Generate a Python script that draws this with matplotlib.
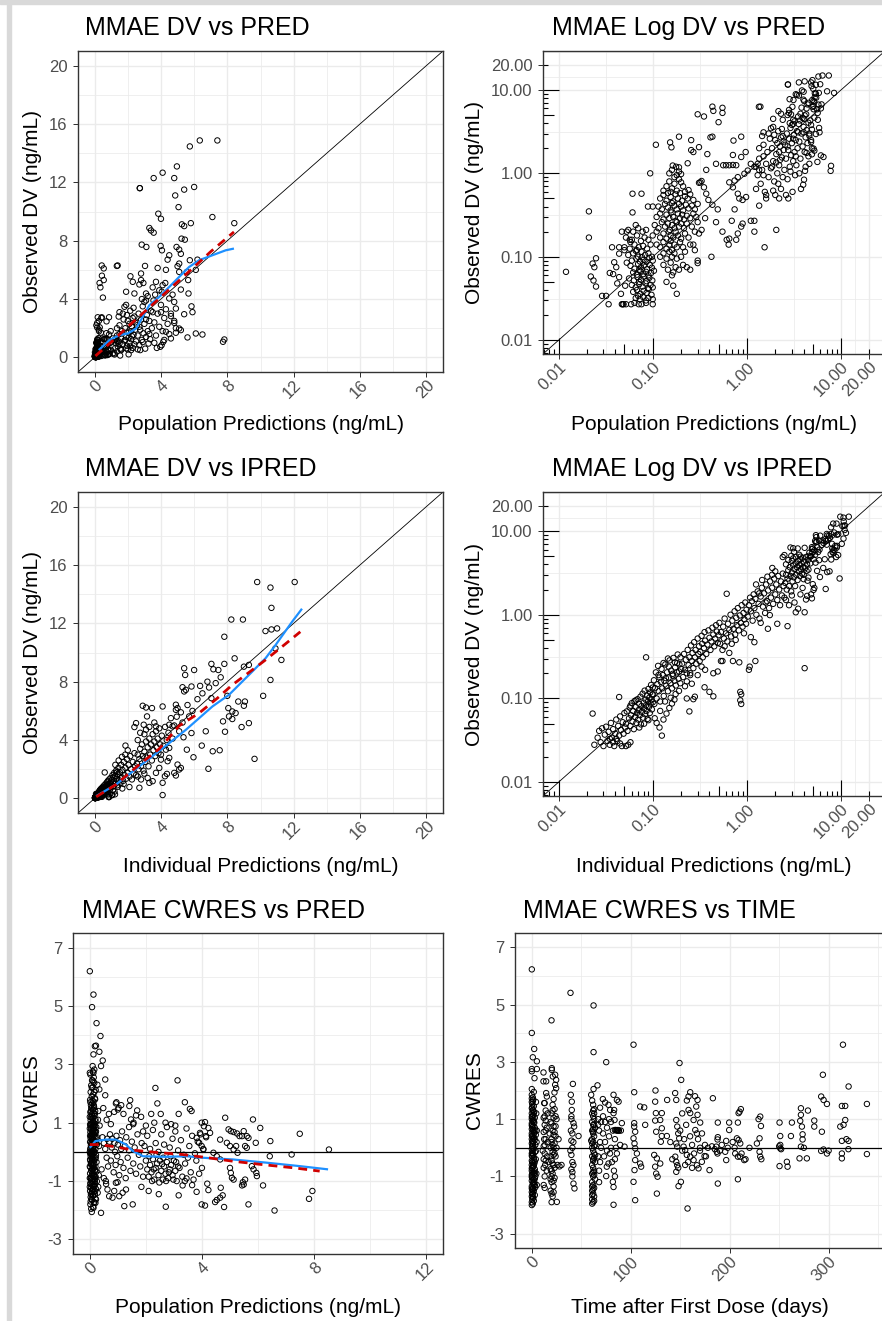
import numpy as np
import matplotlib
matplotlib.use('Agg')
import matplotlib.pyplot as plt
import matplotlib.transforms as mtrans
from matplotlib.patches import Rectangle
from matplotlib.ticker import NullLocator, NullFormatter

plt.rcParams['font.family'] = ['Liberation Sans', 'DejaVu Sans']

# ---------------- DATA ----------------
# Dataset A: population predictions (PRED) vs observed DV (ng/mL)
pred_dv_low = [(0.012,0.066),(0.021,0.35),(0.021,0.17),(0.022,0.058),(0.0235,0.052),(0.025,0.044),(0.025,0.096),
    (0.023,0.083),(0.024,0.075),(0.029,0.034),(0.032,0.034),(0.034,0.027),(0.035,0.064),(0.037,0.13),(0.044,0.13),
    (0.039,0.086),(0.041,0.075),(0.044,0.109),(0.044,0.057),(0.047,0.2),(0.046,0.036),(0.051,0.045),(0.047,0.027),
    (0.049,0.027),(0.053,0.2),(0.061,0.57),(0.061,0.34),(0.057,0.16),(0.042,0.048),(0.038,0.062),(0.053,0.085),(0.05,0.12)]
pred_dv_c1 = [(0.055,0.21),(0.062,0.2),(0.07,0.22),(0.078,0.2),(0.066,0.24),(0.085,0.21),
    (0.052,0.17),(0.06,0.16),(0.068,0.18),(0.075,0.155),(0.082,0.17),(0.09,0.16),(0.058,0.15),
    (0.05,0.13),(0.057,0.125),(0.064,0.14),(0.071,0.13),(0.079,0.135),(0.087,0.125),(0.095,0.14),(0.068,0.12),
    (0.055,0.105),(0.062,0.11),(0.07,0.1),(0.076,0.115),(0.083,0.105),(0.09,0.11),(0.098,0.1),(0.066,0.118),
    (0.06,0.09),(0.067,0.095),(0.073,0.088),(0.08,0.092),(0.086,0.087),(0.092,0.097),(0.1,0.09),(0.077,0.099),
    (0.058,0.078),(0.064,0.072),(0.07,0.082),(0.075,0.075),(0.081,0.079),(0.087,0.071),(0.093,0.08),(0.098,0.074),(0.072,0.07),
    (0.062,0.065),(0.068,0.061),(0.074,0.067),(0.079,0.062),(0.085,0.066),(0.09,0.06),(0.096,0.064),(0.103,0.068),
    (0.056,0.055),(0.063,0.052),(0.069,0.057),(0.075,0.053),(0.08,0.058),(0.086,0.051),(0.092,0.056),(0.099,0.052),(0.072,0.05),
    (0.06,0.046),(0.066,0.043),(0.072,0.047),(0.078,0.044),(0.084,0.048),(0.089,0.042),(0.095,0.046),(0.1,0.043),
    (0.062,0.038),(0.068,0.04),(0.074,0.036),(0.08,0.039),(0.086,0.037),(0.091,0.041),(0.097,0.035),
    (0.066,0.032),(0.073,0.031),(0.079,0.033),(0.085,0.03),(0.09,0.032),(0.1,0.031),(0.07,0.034),
    (0.048,0.027),(0.052,0.027),(0.059,0.027),(0.064,0.028),(0.071,0.027),(0.076,0.027),(0.085,0.028),(0.1,0.027)]
pred_dv_c2 = [(0.163,1.24),(0.177,1.2),(0.19,1.18),(0.17,0.9),(0.108,2.2),(0.153,2.35),(0.158,2.05),(0.19,2.75),
    (0.256,2.5),(0.256,1.9),(0.27,1.8),(0.235,1.32),(0.094,1.0),(0.076,0.57),(0.1,0.4),(0.089,0.4),
    (0.15,1.0),(0.16,1.1),(0.18,0.95),(0.19,1.05),(0.2,0.98),
    (0.13,0.62),(0.14,0.7),(0.15,0.8),(0.16,0.66),(0.17,0.75),(0.18,0.62),(0.19,0.85),(0.21,0.7),(0.22,0.6),(0.24,0.63),(0.155,0.6),(0.2,0.78),
    (0.12,0.5),(0.13,0.55),(0.14,0.47),(0.145,0.58),(0.155,0.52),(0.165,0.46),(0.175,0.56),(0.185,0.5),(0.195,0.58),(0.205,0.47),(0.22,0.53),(0.235,0.5),(0.25,0.56),(0.27,0.48),
    (0.115,0.4),(0.125,0.37),(0.135,0.43),(0.145,0.39),(0.155,0.36),(0.16,0.44),(0.17,0.41),(0.18,0.37),(0.19,0.43),(0.2,0.4),(0.21,0.36),(0.225,0.42),(0.24,0.38),(0.26,0.41),(0.28,0.37),(0.3,0.43),
    (0.11,0.3),(0.12,0.33),(0.13,0.28),(0.14,0.32),(0.15,0.29),(0.158,0.34),(0.165,0.3),(0.175,0.27),(0.185,0.33),(0.195,0.29),(0.205,0.32),(0.215,0.28),(0.23,0.31),(0.25,0.29),(0.27,0.33),(0.29,0.3),
    (0.105,0.24),(0.115,0.22),(0.125,0.26),(0.135,0.23),(0.145,0.25),(0.152,0.21),(0.16,0.24),(0.17,0.22),(0.18,0.26),(0.19,0.23),(0.2,0.25),(0.215,0.22),(0.23,0.25),(0.26,0.23),(0.3,0.26),
    (0.1,0.18),(0.11,0.2),(0.12,0.17),(0.13,0.19),(0.14,0.165),(0.148,0.2),(0.155,0.18),(0.165,0.17),(0.175,0.2),(0.185,0.18),(0.2,0.165),(0.22,0.19),(0.24,0.17),(0.28,0.2),
    (0.11,0.14),(0.12,0.13),(0.13,0.15),(0.14,0.125),(0.15,0.14),(0.155,0.155),(0.16,0.12),(0.17,0.14),(0.18,0.13),(0.195,0.15),(0.21,0.13),(0.25,0.14),
    (0.12,0.1),(0.13,0.11),(0.14,0.095),(0.15,0.115),(0.16,0.1),(0.17,0.11),(0.18,0.095),(0.2,0.1),(0.22,0.115),
    (0.13,0.08),(0.145,0.07),(0.155,0.085),(0.165,0.065),(0.175,0.075),(0.19,0.07),(0.16,0.06),(0.21,0.08),(0.23,0.075),
    (0.14,0.05),(0.165,0.045),(0.18,0.036),(0.25,0.07),(0.3,0.09)]
pred_dv_mid = [(0.35,4.8),(0.43,6.3),(0.44,5.6),(0.55,6.1),(0.55,5.3),(0.5,4.1),(0.41,2.7),(0.43,2.75),(0.31,2.06),
    (0.38,1.7),(0.47,1.3),(0.56,1.25),(0.6,1.25),(0.65,1.25),(0.71,1.26),(0.77,1.25),(0.37,1.1),(0.32,0.78),(0.31,0.77),
    (0.33,0.81),(0.35,0.68),(0.37,0.57),(0.39,0.48),(0.43,0.42),(0.49,0.37),(0.36,0.29),(0.47,0.26),(0.55,0.2),(0.42,0.1),
    (0.3,0.084),(0.28,0.12),(0.31,0.19),(0.33,0.21),(0.27,0.14),(0.69,0.27),(0.74,0.37),(0.61,0.16),(0.64,0.14),(0.65,0.165),
    (0.77,0.16),(0.8,0.19),(0.87,0.23),(0.9,0.25),(1.1,0.27),(1.2,0.27),(1.2,0.2),(1.54,0.13),(1.35,0.41),(2.05,0.21),
    (0.72,2.47),(0.87,2.75),(0.71,1.66),(0.87,1.57),(0.97,1.8),(0.65,0.78),(0.71,0.68),(0.8,0.57),(0.83,0.5),(0.9,0.48),
    (0.98,0.52),(0.74,0.82),(0.8,0.9),(0.94,0.99),(1.02,1.08),(1.1,1.3),(1.2,1.2),(1.3,1.3),(1.35,1.1),(1.5,0.95),(1.39,6.3),(2.73,11.6)]
pred_dv_c4 = [(1.25,1.2),(1.3,0.95),(1.35,1.5),(1.4,0.75),(1.45,1.1),(1.5,2.2),(1.55,0.6),(1.6,1.3),(1.65,1.8),(1.7,0.9),
    (1.75,2.6),(1.8,1.15),(1.35,2.0),(1.5,1.6),(1.6,0.5),(1.7,3.0),(1.25,0.65),(1.45,2.8),
    (1.85,2.0),(1.9,1.4),(1.95,0.8),(2.0,2.5),(2.05,1.7),(2.1,1.0),(2.15,3.2),(2.2,1.25),(2.25,2.1),(2.3,0.65),(2.35,1.55),
    (2.4,2.8),(2.45,1.9),(2.5,1.1),(1.9,3.6),(2.0,0.55),(2.1,2.3),(2.2,1.8),(2.3,2.7),(2.4,0.9),(1.85,1.2),(2.05,1.35),
    (2.25,1.45),(2.45,2.4),(2.15,0.75),(2.35,3.4),(1.95,2.9),
    (2.55,2.2),(2.6,1.5),(2.65,3.0),(2.7,0.85),(2.75,1.9),(2.8,2.6),(2.85,1.2),(2.9,3.5),(2.95,1.65),(3.0,2.3),(3.05,0.6),
    (3.1,1.4),(3.15,2.9),(3.2,1.8),(3.25,0.95),(3.3,2.5),(3.35,1.25),(3.4,3.2),(3.45,2.0),(2.6,0.55),(2.75,0.5),(2.85,4.0),
    (3.0,3.8),(3.2,4.2),(2.7,2.1),(2.9,1.05),(3.1,2.6),(3.3,1.6),
    (3.6,2.4),(3.7,1.5),(3.8,3.0),(3.9,2.1),(4.0,3.6),(4.1,1.8),(4.2,2.7),(4.3,3.3),(4.4,2.3),(4.6,3.0),(4.8,2.5),(3.6,1.0),
    (3.75,0.65),(4.2,1.2),(4.5,1.6),(3.55,3.9),(3.65,4.3),(4.05,4.5),(4.7,4.3),(4.9,2.0),(1.6,0.55),(1.9,0.62),(2.2,0.5)]
pred_dv_high = [(6.34,14.87),(5.74,14.46),(7.4,14.87),(4.96,13.09),(4.1,12.66),(3.56,12.29),(4.8,12.29),(2.72,11.6),
    (5.4,11.5),(6.0,11.68),(4.86,11.1),(5.06,10.3),(3.84,9.85),(4.0,9.5),(7.1,9.62),(8.42,9.2),(5.26,9.12),(5.8,9.2),
    (5.4,9.0),(3.3,8.87),(3.4,8.7),(3.56,8.55),(5.24,8.14),(5.44,8.07),(2.84,7.73),(3.12,7.57),(3.98,7.64),(4.06,7.34),
    (4.94,7.57),(5.1,7.39),(4.5,7.0),(4.4,6.7),(5.2,7.1),(5.74,6.66),(6.2,6.7),(5.1,6.43),(5.0,6.25),(3.04,6.27),(1.34,6.27),
    (3.8,6.13),(4.3,6.0),(6.1,6.0),(5.56,5.86),(5.1,5.86),(2.16,5.56),(2.8,5.75),(0.3,5.1),(2.3,5.18),(2.7,5.0),(2.8,5.3),
    (2.94,5.1),(3.7,5.18),(4.1,4.95),(4.26,5.1),(5.64,5.3),(5.2,4.65),(5.66,4.38),(1.9,4.5),(2.4,4.38),(3.1,4.38),(3.5,4.8),
    (3.9,4.6),(4.5,4.04),(4.8,3.8),(4.9,3.35),(5.84,3.5),(5.9,3.1),(5.4,2.96),(4.0,3.1),(3.5,3.1),(1.8,3.47),(1.5,3.1),
    (4.6,2.83),(4.8,2.37),(5.1,1.98),(5.2,1.87),(4.9,1.69),(4.3,1.76),(4.6,1.3),(4.04,0.84),(3.96,0.73),(4.14,1.07),
    (5.6,1.37),(6.1,1.64),(6.5,1.57),(7.74,1.07),(7.82,1.23),(3.1,3.9)]

# Dataset B: individual predictions (IPRED) vs observed DV (ng/mL)
ipred_dv_b1 = [(0.023,0.066),(0.024,0.028),(0.026,0.034),(0.027,0.041),(0.028,0.03),(0.03,0.027),(0.031,0.037),(0.032,0.046),
    (0.033,0.031),(0.034,0.04),(0.035,0.028),(0.036,0.051),(0.037,0.034),(0.038,0.043),(0.039,0.027),(0.04,0.038),(0.041,0.056),
    (0.042,0.031),(0.043,0.047),(0.044,0.036),(0.044,0.104),(0.045,0.061),(0.046,0.042),(0.047,0.027),(0.048,0.052),(0.049,0.038),
    (0.05,0.067),(0.051,0.045),(0.045,0.029),(0.038,0.03),(0.052,0.027),(0.055,0.028),(0.058,0.03),(0.029,0.044),(0.035,0.033),(0.041,0.033)]
ipred_dv_b2 = [(0.052,0.05),(0.053,0.07),(0.054,0.041),(0.056,0.058),(0.057,0.078),(0.058,0.047),(0.059,0.063),(0.06,0.088),
    (0.061,0.053),(0.062,0.071),(0.063,0.043),(0.064,0.093),(0.065,0.06),(0.066,0.079),(0.067,0.051),(0.068,0.067),(0.069,0.098),
    (0.07,0.056),(0.071,0.073),(0.072,0.086),(0.073,0.063),(0.074,0.105),(0.075,0.049),(0.076,0.081),(0.077,0.069),(0.078,0.114),
    (0.079,0.059),(0.08,0.089),(0.081,0.076),(0.082,0.124),(0.083,0.065),(0.084,0.097),(0.085,0.083),(0.085,0.31),(0.086,0.071),
    (0.087,0.108),(0.088,0.057),(0.089,0.092),(0.09,0.13),(0.091,0.079),(0.092,0.102),(0.093,0.067),(0.094,0.118),(0.095,0.087),
    (0.096,0.145),(0.097,0.097),(0.098,0.074),(0.099,0.112),(0.1,0.135),(0.1,0.09),(0.072,0.045),(0.081,0.05),(0.09,0.055),
    (0.066,0.095),(0.058,0.082)]
ipred_dv_b3 = [(0.101,0.112),(0.103,0.165),(0.104,0.086),(0.106,0.133),(0.108,0.205),(0.11,0.1),(0.112,0.148),(0.114,0.245),
    (0.116,0.122),(0.118,0.178),(0.12,0.092),(0.122,0.158),(0.124,0.225),(0.126,0.132),(0.128,0.19),(0.131,0.107),(0.133,0.163),
    (0.136,0.255),(0.139,0.142),(0.142,0.205),(0.145,0.122),(0.148,0.178),(0.151,0.285),(0.154,0.152),(0.157,0.215),(0.16,0.132),
    (0.163,0.188),(0.166,0.305),(0.17,0.163),(0.173,0.235),(0.176,0.143),(0.18,0.205),(0.184,0.335),(0.188,0.172),(0.192,0.255),
    (0.196,0.152),(0.2,0.225),(0.105,0.058),(0.11,0.051),(0.118,0.045),(0.125,0.036),(0.13,0.056),(0.14,0.066),(0.15,0.077),
    (0.16,0.087),(0.17,0.097),(0.12,0.071),(0.135,0.092),(0.155,0.102),(0.175,0.113),(0.19,0.123),(0.145,0.3),(0.13,0.265),
    (0.163,0.197),(0.182,0.265),(0.197,0.31),(0.115,0.19),(0.138,0.175),(0.148,0.24),(0.172,0.27)]
ipred_dv_b4 = [(0.205,0.26),(0.21,0.18),(0.215,0.34),(0.22,0.22),(0.225,0.29),(0.23,0.16),(0.235,0.38),(0.24,0.25),(0.245,0.31),
    (0.25,0.2),(0.255,0.43),(0.26,0.28),(0.265,0.35),(0.27,0.23),(0.275,0.47),(0.28,0.31),(0.285,0.38),(0.29,0.26),(0.3,0.52),
    (0.305,0.34),(0.31,0.42),(0.315,0.28),(0.32,0.36),(0.33,0.56),(0.335,0.45),(0.34,0.31),(0.35,0.4),(0.355,0.62),(0.36,0.49),
    (0.37,0.34),(0.38,0.44),(0.39,0.65),(0.4,0.53),(0.41,0.38),(0.42,0.48),(0.43,0.7),(0.44,0.58),(0.45,0.42),(0.46,0.52),
    (0.47,0.75),(0.48,0.63),(0.49,0.46),(0.5,0.57),(0.19,0.21),(0.23,0.2),(0.25,0.19),(0.23,0.1),(0.28,0.105),(0.27,0.098),
    (0.245,0.07),(0.355,0.136),(0.4,0.12),(0.44,0.106),(0.44,0.2),(0.49,0.21),(0.22,0.14),(0.3,0.19),(0.33,0.24),(0.36,0.22),(0.26,0.15)]
ipred_dv_b5 = [(0.51,0.8),(0.52,0.45),(0.53,0.62),(0.55,0.38),(0.55,0.28),(0.56,0.72),(0.57,0.52),(0.58,0.9),(0.6,0.6),(0.61,1.78),
    (0.62,0.48),(0.63,0.78),(0.65,0.35),(0.65,0.66),(0.67,1.0),(0.68,0.55),(0.7,0.85),(0.71,0.28),(0.72,0.68),(0.74,1.1),
    (0.75,0.58),(0.77,0.92),(0.78,0.75),(0.8,1.2),(0.82,0.65),(0.83,0.27),(0.84,0.98),(0.85,0.12),(0.87,0.112),(0.85,0.095),
    (0.87,0.086),(0.86,0.8),(0.88,1.3),(0.9,0.72),(0.92,1.05),(0.94,0.88),(0.96,1.4),(0.98,0.78),(0.99,1.15),(0.53,0.28),
    (0.58,0.42),(0.69,0.45),(0.76,0.5),(0.93,0.6)]
ipred_dv_b6 = [(1.02,0.95),(1.05,1.3),(1.07,0.24),(1.05,0.22),(1.08,1.6),(1.1,0.54),(1.1,1.1),(1.13,1.45),(1.15,0.85),(1.18,1.75),
    (1.2,0.47),(1.2,1.2),(1.23,0.28),(1.23,1.55),(1.26,1.0),(1.3,1.9),(1.33,1.35),(1.36,0.9),(1.4,0.8),(1.4,1.65),(1.44,2.1),
    (1.48,1.25),(1.52,1.8),(1.56,1.05),(1.6,2.3),(1.64,1.45),(1.67,0.68),(1.68,1.95),(1.72,1.2),(1.75,0.99),(1.76,2.5),(1.8,1.6),
    (1.85,2.1),(1.9,1.35),(1.95,2.7),(2.0,1.75),(2.05,2.3),(2.1,0.78),(2.1,1.5),(2.15,2.9),(2.2,2.0),(2.25,1.3),(2.3,2.5),
    (2.35,1.7),(2.4,3.1),(2.45,2.2),(2.5,1.6),(1.25,2.3),(1.45,2.6),(1.65,2.85),(1.85,3.0),(2.0,3.3),(1.35,1.8),(1.58,1.4)]
ipred_dv_b7 = [(9.8,14.83),(10.6,14.45),(12.06,14.83),(10.66,13.06),(8.24,12.26),(8.94,12.26),(7.82,11.08),(10.3,11.47),
    (10.66,11.58),(11.0,11.65),(10.9,10.28),(11.26,9.49),(8.44,9.6),(7.82,9.22),(7.04,9.22),(7.16,8.85),(7.46,8.8),(5.4,8.92),
    (6.0,8.8),(5.46,8.46),(9.0,9.03),(9.3,9.15),(10.6,8.12),(6.8,8.0),(6.36,7.71),(5.84,7.67),(5.3,7.62),(5.4,7.33),(5.5,7.44),
    (8.0,7.03),(10.16,7.03),(7.04,6.87),(8.66,6.64),(9.06,6.64),(9.0,6.35),(8.06,6.19),(8.3,5.96),(8.5,5.85),(8.1,5.62),
    (7.74,5.28),(7.86,4.57),(8.3,5.44),(8.86,4.89),(9.3,5.16),(6.7,4.6),(6.46,3.62),(7.12,3.23),(7.54,3.3),(6.86,2.03),
    (9.64,2.71),(5.96,2.82),(5.56,3.34),(5.36,4.19),(5.84,4.48),(5.7,5.62),(4.9,6.42),(5.0,6.19),(4.9,6.07),(4.1,6.3),
    (2.9,6.35),(3.1,6.23),(3.46,6.19),(3.16,5.62),(4.5,5.05),(4.7,4.94),(2.5,5.16),(2.4,4.89),(2.96,5.05),(3.1,4.71),
    (3.6,5.2),(3.7,4.94),(1.86,3.62),(5.0,2.32),(5.2,2.09),(5.1,1.98),(4.1,1.07),(4.1,0.23),(4.8,1.75),(4.9,1.57),
    (4.24,1.52),(4.36,1.68),(2.7,0.73),(3.3,1.07),(3.5,1.18),(3.7,1.75),(3.9,2.09),(4.0,2.66),(4.4,2.55),(4.5,2.78),
    (4.0,3.0),(4.3,3.34),(4.5,3.46)]
ipred_dv_b8 = [(2.55,2.4),(2.6,3.0),(2.65,2.0),(2.7,2.7),(2.75,3.4),(2.8,2.2),(2.85,3.7),(2.9,2.9),(2.95,1.9),(3.0,3.2),
    (3.05,2.5),(3.1,3.9),(3.15,2.8),(3.2,3.5),(3.25,2.2),(3.3,4.1),(3.35,3.0),(3.4,3.7),(3.45,2.6),(3.5,4.4),(3.55,3.3),
    (3.6,3.9),(3.65,2.9),(3.7,4.6),(3.75,3.5),(3.8,4.1),(3.85,3.1),(3.9,4.8),(3.95,3.7),(4.05,4.3),(4.15,3.6),(4.25,4.9),
    (4.35,4.0),(4.45,4.5),(4.6,5.5),(4.7,4.1),(4.8,5.0),(4.95,5.6),(5.1,4.6),(5.2,5.9),(5.3,5.2),(5.6,6.4),(5.9,6.0),
    (6.2,6.8),(6.5,7.2),(6.9,7.6),(7.3,7.9),(7.6,8.3),(2.6,1.5),(2.8,1.3),(3.0,1.7),(3.2,1.4),(2.75,4.5),(2.6,4.0),(3.0,4.4),(3.3,4.9)]

# Dataset C: PRED vs CWRES
pred_cwres_col = [(0.05,-1.95),(0.12,-1.88),(0.02,-1.8),(0.15,-1.72),(0.08,-1.65),(0.2,-1.6),(0.03,-1.55),(0.11,-1.5),
    (0.18,-1.46),(0.06,-1.42),(0.14,-1.38),(0.01,-1.34),(0.09,-1.3),(0.22,-1.27),(0.04,-1.24),(0.16,-1.2),(0.1,-1.17),
    (0.07,-1.13),(0.19,-1.1),(0.02,-1.07),(0.13,-1.04),(0.25,-1.01),(0.05,-0.98),(0.17,-0.95),(0.09,-0.92),(0.03,-0.89),
    (0.21,-0.86),(0.12,-0.83),(0.07,-0.8),(0.15,-0.77),(0.01,-0.74),(0.1,-0.71),(0.23,-0.68),(0.05,-0.65),(0.18,-0.62),
    (0.08,-0.59),(0.13,-0.56),(0.02,-0.53),(0.2,-0.5),(0.11,-0.47),(0.06,-0.44),(0.16,-0.41),(0.04,-0.38),(0.24,-0.35),
    (0.09,-0.32),(0.14,-0.29),(0.01,-0.26),(0.19,-0.23),(0.07,-0.2),(0.12,-0.17),(0.03,-0.14),(0.22,-0.11),(0.1,-0.08),
    (0.05,-0.05),(0.17,-0.02),(0.08,0.01),(0.14,0.04),(0.02,0.07),(0.2,0.1),(0.11,0.13),(0.06,0.16),(0.15,0.19),(0.04,0.22),
    (0.25,0.25),(0.09,0.28),(0.13,0.31),(0.01,0.34),(0.18,0.37),(0.07,0.4),(0.12,0.43),(0.03,0.46),(0.21,0.49),(0.1,0.52),
    (0.05,0.55),(0.16,0.58),(0.08,0.61),(0.14,0.64),(0.02,0.67),(0.19,0.7),(0.11,0.73),(0.06,0.76),(0.15,0.79),(0.04,0.82),
    (0.23,0.85),(0.09,0.88),(0.13,0.91),(0.01,0.94),(0.17,0.97),(0.07,1.0),(0.12,1.04),(0.03,1.08),(0.2,1.12),(0.1,1.16),
    (0.05,1.2),(0.16,1.24),(0.08,1.28),(0.14,1.32),(0.02,1.36),(0.19,1.4),(0.11,1.45),(0.06,1.5),(0.15,1.55),(0.04,1.6),
    (0.09,1.66),(0.13,1.72),(0.01,1.78),(0.18,1.84),(0.07,1.9),(0.12,1.97),(0.03,2.05),(0.21,2.12),(0.1,2.2),(0.05,2.28),
    (0.16,2.36),(0.08,2.45),(0.14,2.55),(0.02,2.65),(0.11,2.75),
    (0.0,-1.2),(0.04,-0.9),(0.1,-0.6),(0.16,-0.3),(0.0,0.0),(0.05,0.3),(0.11,0.6),(0.17,0.9),(0.0,1.2),(0.06,1.5),(0.12,-1.5),
    (0.18,-1.0),(0.0,-0.5),(0.07,0.5),(0.13,1.0),(0.19,1.8),(0.0,0.8),(0.03,-1.7),(0.09,-0.1),(0.15,0.35),(0.0,-0.9),(0.06,1.3),
    (0.12,0.2),(0.18,-0.65),(0.01,0.55),(0.08,-1.35),(0.14,1.6),(0.2,0.65),(0.02,-0.3),(0.1,2.45),(0.16,-1.15),(0.04,0.95),
    (0.03,-1.1),(0.09,-0.75),(0.15,-0.55),(0.21,-0.2),(0.02,0.12),(0.08,0.45),(0.14,0.75),(0.2,1.05),(0.04,1.4),(0.1,1.75),
    (0.16,2.05),(0.06,-1.62),(0.12,-1.28),(0.18,-0.85),(0.05,-0.4),(0.11,0.05),(0.17,0.5),(0.03,0.9),(0.09,1.22),(0.15,1.5),
    (0.07,2.2),(0.13,2.4),(0.19,-1.35),(0.01,-0.05),(0.23,0.3),(0.06,0.62),(0.12,0.88),(0.18,1.3),(0.02,1.7),(0.08,-0.25),
    (0.14,-0.95),(0.2,-1.75),(0.04,-1.45),(0.1,-1.0),(0.16,0.0),(0.22,0.7),
    (0.0,6.19),(0.13,5.39),(0.08,4.96),(0.24,4.41),(0.38,3.97),(0.18,3.62),(0.22,3.64),(0.34,3.43),(0.13,3.34),(0.46,3.13),
    (0.4,2.94),(0.55,2.48),(0.55,1.94),(0.1,2.94),(0.16,2.82),(0.13,2.71),(0.0,2.71),(0.34,2.14),(0.4,-2.09),(0.07,-2.06),
    (0.13,-1.92),(0.16,-1.74),(0.22,-1.63),(0.28,-1.4),(0.3,1.4),(0.35,0.9),(0.32,-0.8),(0.27,2.3),(0.3,-1.2),(0.26,0.5),
    (0.29,1.1),(0.33,0.2)]
pred_cwres_near = [(0.45,0.5),(0.5,0.3),(0.55,0.1),(0.6,-0.2),(0.62,0.45),(0.65,-0.5),(0.7,0.35),(0.72,0.6),(0.75,-0.3),
    (0.78,0.15),(0.8,0.45),(0.85,-0.7),(0.88,0.3),(0.9,0.0),(0.92,-0.45),(0.95,0.55),(0.98,-0.15),(1.0,0.25),(1.05,-0.8),
    (1.08,0.4),(1.1,-0.35),(1.12,0.1),(1.15,0.7),(1.2,-0.55),(1.25,0.2),(1.28,-0.9),(1.3,0.5),(1.35,-0.2),(1.4,0.05),
    (1.45,-0.65),(1.5,0.35),(1.55,-0.4),(1.6,0.15),(1.65,-0.75),(1.7,0.6),(1.75,-0.1),(1.8,-0.5),(1.85,0.3),(1.9,-0.85),
    (0.5,-0.9),(0.6,1.1),(0.68,1.3),(0.75,0.95),(0.42,-0.6),(0.48,1.5),(0.58,-1.1),(1.0,1.45),(0.95,1.7),(1.12,1.6),
    (1.4,0.85),(1.55,0.95),(1.65,1.25),(0.87,1.37),(0.93,1.66),(1.03,1.51),(1.2,1.3),(1.44,1.77),(1.41,1.57),(1.69,1.42),
    (1.83,1.2),(1.47,1.11),(1.56,1.0),(0.87,-1.34),(0.81,-1.57),(0.69,-1.52),(0.63,-1.29),(0.57,-1.0),(0.99,-1.04),
    (0.93,-1.06),(1.29,-1.29),(1.17,-1.4),(1.05,-1.52),(1.53,-1.8),(1.23,-1.86),(1.84,-1.2)]
pred_cwres_far = [(2.0,-0.3),(2.05,-0.6),(2.1,-0.85),(2.15,-0.45),(2.2,-0.7),(2.25,-0.25),(2.3,-0.95),(2.35,-0.55),(2.4,-0.4),
    (2.45,-0.8),(2.5,-0.3),(2.55,-0.65),(2.6,-0.95),(2.65,-0.5),(2.7,-0.75),(2.75,-0.35),(2.8,-0.9),(2.85,-0.6),(2.9,-0.45),
    (2.95,-0.8),(3.0,-0.3),(3.05,-0.65),(3.1,-1.0),(3.15,-0.5),(2.12,-0.15),(2.38,-0.1),(2.62,-0.2),(2.88,-0.15),(2.22,-1.0),
    (2.48,-1.05),(2.72,-1.0),(2.98,-0.95),(2.28,-0.6),(2.58,-0.42),(2.82,-0.7),(3.08,-0.35),
    (1.95,0.2),(2.05,0.55),(2.15,0.1),(2.25,0.75),(2.35,0.3),(2.45,0.0),(2.55,0.6),(2.65,0.25),(2.75,0.85),(2.85,0.15),
    (2.95,0.45),(3.05,0.7),(3.15,0.05),(3.25,0.4),(3.35,-0.1),(3.45,0.8),(3.55,0.2),(3.65,0.55),(3.75,-0.05),(3.85,0.35),
    (3.95,0.6),(4.05,0.1),(4.15,0.5),(3.2,-0.55),(3.4,-0.4),(3.6,-0.7),(3.8,-0.3),(4.0,-0.55),(3.3,-0.85),(3.5,-0.2),
    (3.7,-0.95),(3.9,-0.75),(2.53,1.3),(2.19,1.3),(3.17,1.3),(3.13,2.45),(2.34,2.19),(2.41,1.66),(3.39,1.70),(3.57,1.47),
    (3.63,1.4),(2.7,1.0),(2.9,0.95),(3.05,0.9),(2.3,1.0),(1.9,0.7),(2.0,0.9),
    (4.83,1.17),(5.82,1.11),(6.08,0.82),(7.49,0.62),(8.53,0.08),(7.2,-0.09),(6.42,-0.15),(6.44,0.37),(5.92,0.31),(4.95,0.77),
    (5.03,0.71),(5.13,0.68),(5.25,0.63),(5.34,0.54),(5.43,0.54),(5.49,0.71),(5.6,0.54),(5.66,0.48),(5.54,0.2),(5.6,0.14),
    (5.22,0.2),(5.13,0.08),(5.27,-0.03),(4.89,0.31),(5.0,0.2),(4.65,0.42),(4.29,0.65),(4.14,0.54),(4.07,0.88),(3.99,1.0),
    (4.11,1.02),(4.23,0.82),(3.93,0.65),(3.81,0.48),(3.9,0.31),(3.99,0.2),(4.05,0.08),(4.41,-0.03),(4.53,-0.15),(4.65,-0.26),
    (5.0,-0.55),(5.03,-0.72),(5.07,-0.89),(5.13,-0.95),(5.43,-1.15),(5.46,-1.04),(5.78,-0.49),(5.84,-0.6),(5.94,-0.72),
    (5.96,-0.83),(5.54,-0.95),(5.49,-1.12),(6.18,-1.15),(5.66,-1.8),(6.59,-2.01),(4.79,-1.89),(4.74,-1.49),(4.65,-1.57),
    (4.53,-1.65),(4.47,-1.72),(4.67,-1.23),(4.19,-1.09),(4.23,-1.31),(3.99,-1.8),(4.11,-1.84),(3.81,-1.37),(3.65,-1.14),
    (3.31,-1.15),(3.39,-1.0),(3.45,-0.91),(3.17,-1.49),(2.71,-1.88),(2.46,-1.45),(2.1,-1.34),(7.82,-1.61),(7.94,-1.34)]

# Dataset D: time after first dose (days) vs CWRES
time_cwres_c0 = [(0,-2.0),(1,-1.95),(0,-1.9),(2,-1.85),(0.5,-1.8),(1.5,-1.75),(0,-1.7),(3,-1.65),(1,-1.6),(0,-1.55),(2,-1.5),
    (0.5,-1.45),(1.5,-1.4),(0,-1.35),(3,-1.3),(1,-1.25),(2.5,-1.2),(0,-1.15),(1.5,-1.1),(0.5,-1.05),(3.5,-1.0),(0,-0.95),
    (2,-0.9),(1,-0.85),(0,-0.8),(3,-0.75),(0.5,-0.7),(1.5,-0.65),(0,-0.6),(2.5,-0.55),(1,-0.5),(0,-0.45),(4,-0.4),(2,-0.35),
    (0.5,-0.3),(1.5,-0.25),(0,-0.2),(3,-0.15),(1,-0.1),(0,-0.05),(2,0.0),(0.5,0.05),(3.5,0.1),(0,0.15),(1.5,0.2),(1,0.25),
    (0,0.3),(2.5,0.35),(0.5,0.4),(4,0.45),(0,0.5),(2,0.55),(1,0.6),(0,0.65),(3,0.7),(1.5,0.75),(0.5,0.8),(0,0.85),(2,0.9),
    (1,0.95),(0,1.0),(3,1.05),(0.5,1.1),(1.5,1.15),(0,1.2),(2.5,1.25),(1,1.3),(0,1.38),(2,1.45),(0.5,1.52),(0,1.6),(1.5,1.68),
    (1,1.76),(0,1.85),(2,1.95),(0,2.05),
    (0,6.23),(0,4.01),(2.4,3.45),(1.0,3.16),(0,2.75),(0,2.67),(2.7,2.43),(5.1,3.02),(5.1,2.75),(4.5,1.2),(5,0.6),(4.6,-0.9),
    (5,-1.3),(4.2,1.6),(4.8,0.2),
    (1,-1.72),(2,-1.28),(0.5,-0.92),(3,-0.48),(1.5,-0.02),(0,0.42),(2.5,0.88),(1,1.32),(3.5,-1.38),(0,-1.02),(2,-0.62),
    (0.5,-0.18),(3,0.28),(1.5,0.62),(0,1.08),(2.5,-0.82),(1,0.12),(4,-0.12),(0.5,0.72),(2,1.22),(1,-1.48),(3,-1.08),(0,-0.28),(1.5,0.38),
    (0.5,-1.62),(1.5,-1.22),(0,-0.72),(2,-0.42),(1,-0.22),(0.5,0.22),(2.5,0.52),(0,0.78),(1.5,1.02),(0.5,1.42),(1,1.62),
    (3,-0.88),(2,-1.12),(0,-1.42),(1,-0.65),(3.5,0.6),(2,0.32),(0.5,-0.5),(1.5,0.95),(0,1.72)]
time_cwres_c1 = [(12,-1.3),(13,-1.0),(12,-0.7),(14,-0.45),(13,-0.2),(12,0.05),(14,0.3),(12,0.55),(13,0.8),(12,1.05),(14,1.3),
    (13,1.56),(11.8,2.63),(14.5,2.32),(11.8,2.32),(14.5,1.91),(15.2,1.79),(12.5,1.56),(15,-0.8),(16,0.2),(15.5,-0.3),(13.5,-0.6),
    (12.5,0.3),(14,0.95),(11,-0.1),(13,-1.4),(15,0.7),(16,1.2),(17,-0.5),
    (20,-1.9),(21,-1.7),(19,-1.5),(22,-1.35),(20,-1.2),(23,-1.05),(21,-0.9),(19,-0.75),(22,-0.6),(20,-0.45),(24,-0.3),
    (21,-0.15),(19,0.0),(23,0.15),(20,0.3),(22,0.45),(21,0.6),(24,0.75),(19,0.9),(22,1.05),(20,1.2),(23,1.35),(21,1.5),
    (19.9,4.45),(20.2,2.78),(20.2,2.72),(21.2,2.49),(23.6,2.55),(24.6,2.37),(23.6,2.2),(24.6,2.08),(22.9,1.93),(25.3,-1.89),
    (22,1.7),(20,-1.0),(23,-0.7),(21,0.1),(24,0.4),(20,0.85),(22,-0.25),(25,0.0),(26,-0.6),(18,0.5),(19,-1.1),(22,-1.55),
    (25,1.0),(28,-0.65),(30,-0.6),(27,0.3),
    (20,-1.6),(22,-1.15),(21,-0.55),(23,-0.2),(20,0.2),(22,0.75),(24,1.1),(21,1.3),(19,-0.3),(23,0.55),(20,-0.8),(22,0.0),
    (13,0.1),(12,-0.4),(14,0.6),(13,1.1)]
time_cwres_c2 = [(39.1,5.41),(41.5,2.23),(39.4,1.85),(40.4,1.61),(40.4,1.32),(42.1,0.86),(42.8,0.74),(42.1,-1.25),(43.1,-1.42),
    (40,1.0),(41,0.5),(40,0.25),(41,0.0),(40,-0.25),(41,-0.5),(40,-0.75),(41,-1.0),(42,0.2),(42,-0.6),(39,-0.1),(47.2,0.41),
    (40,1.1),(41,-0.85),(39.5,0.6)]
time_cwres_c3 = [(62,-1.9),(61,-1.8),(63,-1.7),(62,-1.6),(61,-1.5),(63,-1.4),(62,-1.3),(61,-1.2),(64,-1.1),(62,-1.0),(61,-0.9),
    (63,-0.8),(62,-0.7),(61,-0.6),(64,-0.5),(62,-0.4),(61,-0.3),(63,-0.2),(62,-0.1),(61,0.0),(64,0.1),(62,0.2),(61,0.3),
    (63,0.4),(62,0.5),(61,0.6),(64,0.7),(62,0.8),(61,0.9),(63,1.0),(62,1.1),(61,1.2),(63,1.35),(62,1.5),(61,1.65),(62.4,4.97),
    (62.4,3.34),(66.4,2.18),(62.4,2.05),(60,1.85),(63,-1.85),(62,-1.45),(63,-0.95),(62,-0.45),(63,0.05),(62,0.55),(63,1.2),
    (61,-1.65),(64,-0.25),(60,0.25),(61,-1.35),(62,-0.85),(63,-0.35),(61,0.15),(62,0.65),(63,0.8),(61,-1.95),(62,1.3),
    (68,-0.8),(67,-0.3),(69,0.2),(68,0.6),(67,1.0),(69,1.4),(68,-1.2),(70,0.0),(69,-0.5),(67,0.8),(70,0.9)]
time_cwres_c4 = [(71.8,1.7),(74.1,1.58),(77.5,1.5),(79.2,1.32),(75.2,2.99),(75.2,-0.99),(75.8,-0.66),(77.5,-0.55),(82.6,1.85),
    (86,1.67),(87.7,1.61),(83.2,1.32),(82.6,1.21),(83.6,0.97),(82.6,-1.99),(82.6,-1.37),(81.9,-1.19),(91,0.86),(89.3,0.1),
    (93.7,0.04),(72,0.5),(74,0.2),(76,0.7),(78,0.4),(80,0.9),(82,0.6),(84,0.3),(79,-0.2),(81,-0.5),(83,-0.8),(84,-0.4),
    (85,0.0),(86,0.6),(73,-0.3),(76,-0.1),(78,1.0),(80,0.0),(84,-1.0),(88,0.6),(90,0.6),(86,-0.2),(72,1.1),(74,0.9),
    (84,0.62),(85,0.62),(86,0.61),(87,0.62),(88,0.6)]
time_cwres_late = [(102.8,3.6),(149.3,2.96),(151,2.37),(314.5,3.6),(294.2,2.55),(320.2,2.14),(338.7,1.53),(313.4,1.46),
    (316.8,1.46),(292.5,1.79),(294.9,1.67),(298.3,1.53),(316.8,0.97),(315.1,0.8),(311.8,0.74),(313.4,0.24),(320.2,0.24),
    (313.4,-0.2),(313.4,-0.37),(338.7,-0.22),(292.5,-0.11),(294.9,-0.06),(298.3,-0.2),(293.2,0.56),(285.5,0.95),(285.5,0.74),
    (279.1,1.3),(272,1.38),(272,1.15),(271.3,0.94),(273,0.74),(273.7,0.47),(273.7,0.29),(272,0.04),(270.6,-0.37),(278,-0.37),
    (262.9,0.88),(261.9,0.41),(250.4,0.88),(251.1,0.41),(251.1,0.1),(251.1,-0.02),(250.4,-0.64),(257.8,-0.49),(258.5,-0.66),
    (230.9,1.09),(229.2,1.0),(231.6,0.76),(230.2,0.33),(227.5,0.15),(230.2,-0.14),(230.9,-0.31),(211.3,1.35),(210,1.26),
    (209,1.21),(208.3,0.88),(207.3,0.33),(209,0.27),(210.7,0.15),(205.6,-0.2),(208.3,-0.31),(210.7,-0.31),(208.3,-1.1),
    (214.7,-0.43),(199.5,0.88),(199.5,0.62),(196.5,0.24),(195.5,-0.14),(196.5,-0.43),(188,0.88),(188,0.37),(187.7,0.29),
    (186.4,0.04),(187,-0.14),(187.7,-0.2),(188,-1.25),(183,1.73),(179.6,-0.78),(174.6,-0.29),(171.9,-0.49),(170.2,0.88),
    (167.5,1.15),(166.2,1.44),(167.5,1.67),(160.1,1.94),(158.4,1.79),(156.7,1.65),(158.4,1.32),(160.1,1.21),(163.5,0.97),
    (165.2,0.62),(166.9,0.5),(157.4,-2.12),(150.7,-1.19),(148.3,-1.34),(153.4,0.04),(155,-0.08),(156.7,-0.25),(160.1,-0.31),
    (163.5,-0.43),(166.9,-0.61),(168.5,-0.72),(144.9,1.91),(146,1.67),(146,0.97),(147,0.74),(148,0.5),(149,0.33),(146,0.15),
    (147,0.04),(145,-0.31),(146,-0.49),(147,-0.61),(146,-0.84),(136.8,1.67),(136.5,0.41),(131.4,1.21),(129.8,0.97),
    (131.4,0.68),(131.4,0.41),(130.4,0.21),(125,2.0),(124.7,1.61),(125.4,1.21),(124.7,0.95),(125.7,0.56),(123.7,-0.25),
    (126.4,-0.37),(124.7,-0.66),(125.7,-0.9),(127.1,-1.01),(126.4,-1.6),(129.8,-0.55),(113.6,1.41),(109.5,1.44),(114.6,0.8),
    (103.5,1.94),(103.5,0.86),(103.5,0.74),(104.5,0.56),(102.8,0.33),(103.8,0.15),(104.5,-0.02),(106.2,-0.2),(104.5,-0.43),
    (102.8,-1.19),(104.5,-1.83),(109.5,-0.55),(110.5,-0.66),(103.8,-0.78),
    (140,0.2),(142,-0.4),(150,0.6),(152,-0.1),(154,0.3),(156,0.8),(158,-0.5),(160,0.4),(162,0.1),(164,-0.2),(168,0.3),
    (170,-0.1),(172,0.5),(175,0.1),(152,1.2),(148,-0.7),(155,-0.6),(162,-0.7),(165,1.8),(170,0.0),(176,-0.3),(178,0.0),
    (182,0.05),(185,-0.05),(190,-0.1),(192,0.1),(198,0.0),(203,0.2),(205,0.0),(212,-0.2),(216,-0.4),(220,0.0),(232,-0.4),
    (250,0.05),(252,-0.05),(275,0.0),(300,-0.1),(318,0.3),(320,-0.05)]

# Smoothers
loess_pred_x = [0.25, 0.9, 1.5, 2.0, 2.5, 2.9, 3.3, 3.9, 4.5, 5.1, 5.7, 6.3, 7.1, 7.9, 8.4]
loess_pred_y = [0.5, 1.19, 1.53, 1.64, 1.98, 2.78, 3.58, 4.15, 4.83, 5.52, 6.2, 6.66, 7.0, 7.34, 7.46]
lin_pred_x = [0.05, 1.0, 2.0, 3.0, 4.0, 5.0, 6.0, 7.0, 8.4]
lin_pred_y = [0.1, 1.05, 2.1, 3.12, 4.15, 5.17, 6.2, 7.25, 8.6]
loess_ipred_x = [0.1, 1.3, 2.7, 4.0, 5.5, 7.1, 8.1, 9.3, 10.3, 10.9, 11.9, 12.5]
loess_ipred_y = [0.16, 0.96, 2.2, 3.34, 4.7, 6.3, 7.1, 8.46, 9.6, 10.5, 12.1, 13.0]
lin_ipred_x = [0.1, 1.3, 2.7, 3.9, 5.1, 6.3, 7.4, 8.3, 9.5, 10.3, 11.3, 12.4]
lin_ipred_y = [0.11, 0.96, 2.32, 3.4, 4.98, 5.85, 6.87, 7.78, 8.8, 9.49, 10.4, 11.42]
loess_cw_x = [0.0, 0.2, 0.57, 0.93, 1.29, 1.53, 1.9, 2.7, 3.45, 4.0, 5.1, 6.3, 7.5, 8.5]
loess_cw_y = [0.14, 0.37, 0.42, 0.42, 0.25, 0.03, -0.15, -0.17, -0.15, -0.2, -0.26, -0.37, -0.49, -0.6]
lin_cw_x = [0.0, 0.34, 0.93, 1.53, 2.5, 3.3, 4.2, 5.1, 6.1, 7.3, 8.2]
lin_cw_y = [0.25, 0.25, 0.17, 0.06, -0.03, -0.09, -0.2, -0.32, -0.43, -0.55, -0.66]

lin_ticks = [0, 4, 8, 12, 16, 20]
log_ticks = [0.01, 0.1, 1, 10, 20]
log_labels = ['0.01', '0.10', '1.00', '10.00', '20.00']
cw_ticks = [7, 5, 3, 1, -1, -3]
cw_pred_ticks = [0, 4, 8, 12]
time_ticks = [0, 100, 200, 300]

# ---------------- FIGURE ----------------
W, H, DPI = 882, 1321, 100
PX = 72.0 / DPI
fig = plt.figure(figsize=(W / DPI, H / DPI), dpi=DPI)
fig.patch.set_facecolor('white')
fig.patches.append(Rectangle((0, 1 - 4 / H), 1, 4 / H, transform=fig.transFigure, color='#D9D9D9', zorder=0))
fig.patches.append(Rectangle((7 / W, 0), 4 / W, 1, transform=fig.transFigure, color='#D9D9D9', zorder=0))

GRID = '#EBEBEB'
TXT = '#4D4D4D'


def px_axes(l, t, r, b):
    return fig.add_axes([l / W, 1 - b / H, (r - l) / W, (b - t) / H])


def pts(*groups):
    arr = np.array([p for g in groups for p in g], dtype=float)
    return arr[:, 0], arr[:, 1]


def base_style(ax):
    ax.set_facecolor('white')
    for s in ax.spines.values():
        s.set_color('#333333')
        s.set_linewidth(1.0)
        s.set_zorder(6)
    ax.tick_params(axis='both', which='major', direction='out', length=5 * PX, width=1.0 * PX,
                   color='#333333', labelsize=12, labelcolor=TXT)
    ax.tick_params(axis='y', pad=5.5 * PX)
    ax.tick_params(axis='x', pad=0.5 * PX)
    ax.tick_params(axis='both', which='minor', length=0)


def rot_xlabels(ax):
    for lab in ax.get_xticklabels():
        lab.set_rotation(45)
        lab.set_ha('right')
        lab.set_va('top')
        lab.set_rotation_mode('anchor')


def grid(ax, xmaj, xmin, ymaj, ymin):
    for v in xmin:
        ax.axvline(v, color=GRID, lw=0.55, zorder=0)
    for v in ymin:
        ax.axhline(v, color=GRID, lw=0.55, zorder=0)
    for v in xmaj:
        ax.axvline(v, color=GRID, lw=1.0, zorder=0)
    for v in ymaj:
        ax.axhline(v, color=GRID, lw=1.0, zorder=0)


def scatter(ax, x, y):
    ax.scatter(x, y, s=15, facecolors='none', edgecolors='black', linewidths=0.7, zorder=3)


def smooth(ax, bx, by, rx, ry):
    ax.plot(bx, by, color='#1E90FF', lw=1.6, zorder=4, solid_capstyle='butt')
    ax.plot(rx, ry, color='#D00000', lw=2.0, ls=(0, (3.2, 2.2)), zorder=5)


def linear_panel(ax, x, y, bx, by, rx, ry):
    base_style(ax)
    ax.set_xlim(-1, 21)
    ax.set_ylim(-1, 21)
    grid(ax, lin_ticks, [2, 6, 10, 14, 18], lin_ticks, [2, 6, 10, 14, 18])
    ax.plot([-1, 21], [-1, 21], color='black', lw=0.6, zorder=2)
    scatter(ax, x, y)
    smooth(ax, bx, by, rx, ry)
    ax.set_xticks(lin_ticks)
    ax.set_xticklabels([str(t) for t in lin_ticks])
    ax.set_yticks(lin_ticks)
    ax.set_yticklabels([str(t) for t in lin_ticks])
    rot_xlabels(ax)


def log_panel(ax, x, y, wpx, hpx):
    base_style(ax)
    lo, hi = 10 ** (-2 - 0.165), 10 ** (np.log10(20) + 0.165)
    ax.set_xscale('log')
    ax.set_yscale('log')
    ax.set_xlim(lo, hi)
    ax.set_ylim(lo, hi)
    mins = [10 ** -1.5, 10 ** -0.5, 10 ** 0.5, np.sqrt(200), np.sqrt(800)]
    grid(ax, log_ticks, mins, log_ticks, mins)
    ax.plot([lo, hi], [lo, hi], color='black', lw=0.6, zorder=2)
    scatter(ax, x, y)
    tb = mtrans.blended_transform_factory(ax.transData, ax.transAxes)
    tl = mtrans.blended_transform_factory(ax.transAxes, ax.transData)
    for k in range(-3, 2):
        for m in range(1, 10):
            v = m * 10.0 ** k
            if v < lo or v > hi:
                continue
            L = 16 if m == 1 else (10.5 if m == 5 else 5.3)
            ax.plot([v, v], [0, L / hpx], transform=tb, color='black', lw=0.8, zorder=5,
                    solid_capstyle='butt')
            ax.plot([0, L / wpx], [v, v], transform=tl, color='black', lw=0.8, zorder=5,
                    solid_capstyle='butt')
    for a in (ax.xaxis, ax.yaxis):
        a.set_minor_locator(NullLocator())
        a.set_minor_formatter(NullFormatter())
    ax.set_xticks(log_ticks)
    ax.set_xticklabels(log_labels)
    ax.set_yticks(log_ticks)
    ax.set_yticklabels(log_labels)
    rot_xlabels(ax)


def cw_panel(ax):
    ax.set_ylim(-3.5, 7.5)
    ax.axhline(0, color='black', lw=0.9, zorder=2)
    ax.set_yticks(cw_ticks)
    ax.set_yticklabels([str(t) for t in cw_ticks])


def texts(title, tx, tb, xlabel, xc, xb, ylabel, yx, yc):
    fig.text(tx / W, 1 - tb / H, title, ha='left', va='baseline', fontsize=18, color='black')
    fig.text(xc / W, 1 - xb / H, xlabel, ha='center', va='baseline', fontsize=15, color='black')
    fig.text(yx / W, 1 - yc / H, ylabel, ha='center', va='center', rotation=90, fontsize=15, color='black')


pa_x, pa_y = pts(pred_dv_low, pred_dv_c1, pred_dv_c2, pred_dv_mid, pred_dv_c4, pred_dv_high)
ib_x, ib_y = pts(ipred_dv_b1, ipred_dv_b2, ipred_dv_b3, ipred_dv_b4, ipred_dv_b5, ipred_dv_b6, ipred_dv_b7, ipred_dv_b8)
pc_x, pc_y = pts(pred_cwres_col, pred_cwres_near, pred_cwres_far)
td_x, td_y = pts(time_cwres_c0, time_cwres_c1, time_cwres_c2, time_cwres_c3, time_cwres_c4, time_cwres_late)

# Panel 1
ax1 = px_axes(78, 51, 443, 372)
linear_panel(ax1, pa_x, pa_y, loess_pred_x, loess_pred_y, lin_pred_x, lin_pred_y)
texts('MMAE DV vs PRED', 85, 35, 'Population Predictions (ng/mL)', 260.5, 430,
      'Observed DV (ng/mL)', 33, 211.5)

# Panel 2
ax2 = px_axes(543, 51, 885, 354)
log_panel(ax2, pa_x, pa_y, 342, 303)
texts('MMAE Log DV vs PRED', 552, 35, 'Population Predictions (ng/mL)', 714, 430,
      'Observed DV (ng/mL)', 474, 202.5)

# Panel 3
ax3 = px_axes(78, 492, 443, 813)
linear_panel(ax3, ib_x, ib_y, loess_ipred_x, loess_ipred_y, lin_ipred_x, lin_ipred_y)
texts('MMAE DV vs IPRED', 85, 476, 'Individual Predictions (ng/mL)', 260.5, 872,
      'Observed DV (ng/mL)', 33, 652.5)

# Panel 4
ax4 = px_axes(543, 492, 885, 796)
log_panel(ax4, ib_x, ib_y, 342, 304)
texts('MMAE Log DV vs IPRED', 552, 476, 'Individual Predictions (ng/mL)', 714, 872,
      'Observed DV (ng/mL)', 474, 644)

# Panel 5
ax5 = px_axes(73, 933, 443, 1254)
base_style(ax5)
ax5.set_xlim(-0.6, 12.6)
cw_panel(ax5)
grid(ax5, cw_pred_ticks, [2, 6, 10], cw_ticks, [6, 4, 2, 0, -2])
scatter(ax5, pc_x, pc_y)
smooth(ax5, loess_cw_x, loess_cw_y, lin_cw_x, lin_cw_y)
ax5.set_xticks(cw_pred_ticks)
ax5.set_xticklabels([str(t) for t in cw_pred_ticks])
rot_xlabels(ax5)
texts('MMAE CWRES vs PRED', 82, 918, 'Population Predictions (ng/mL)', 258, 1313, 'CWRES', 32, 1093.5)

# Panel 6
ax6 = px_axes(515, 933, 885, 1248)
base_style(ax6)
ax6.set_xlim(-17, 357)
cw_panel(ax6)
grid(ax6, time_ticks, [50, 150, 250, 350], cw_ticks, [6, 4, 2, 0, -2])
scatter(ax6, td_x, td_y)
ax6.set_xticks(time_ticks)
ax6.set_xticklabels([str(t) for t in time_ticks])
rot_xlabels(ax6)
texts('MMAE CWRES vs TIME', 523, 918, 'Time after First Dose (days)', 700, 1313, 'CWRES', 474, 1090.5)

fig.savefig('out.png', dpi=DPI, facecolor='white')
